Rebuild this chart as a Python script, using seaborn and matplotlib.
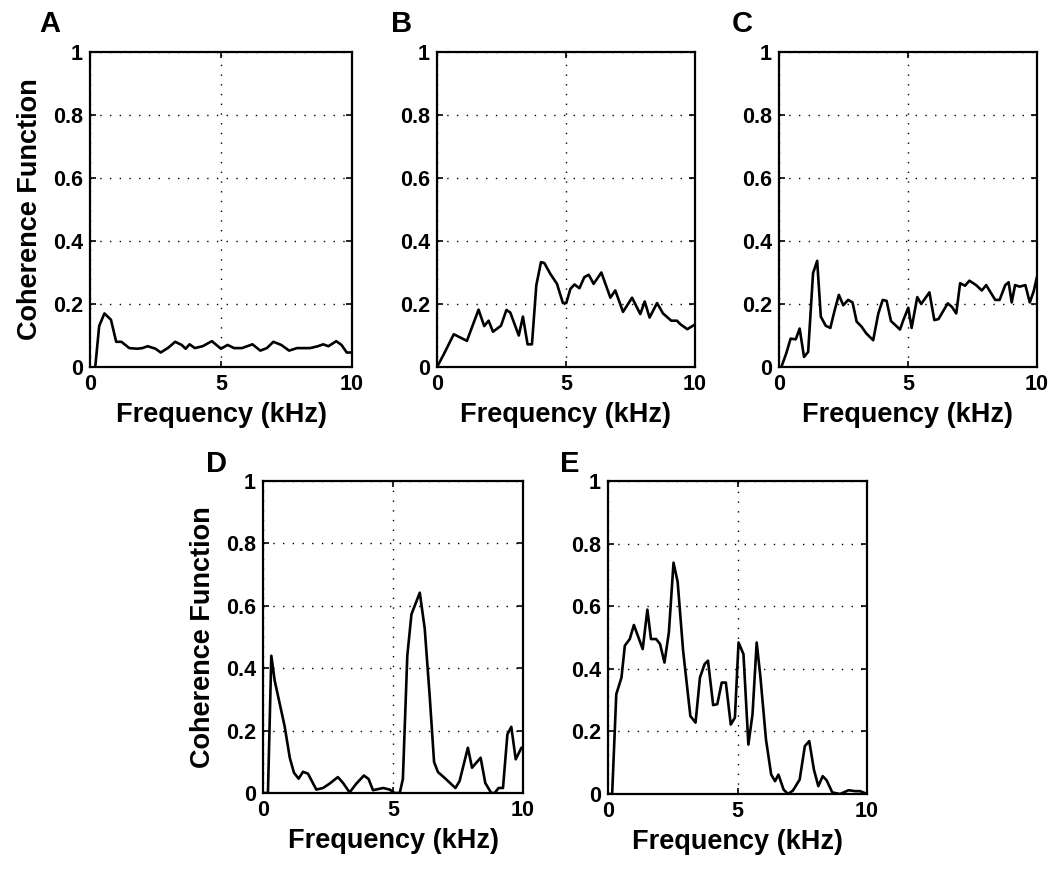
import numpy as np
import pandas as pd
import matplotlib
matplotlib.use("Agg")
import matplotlib.pyplot as plt
import seaborn as sns

sns.set_style("ticks")
plt.rcParams['font.family'] = ['Liberation Sans', 'DejaVu Sans']
plt.rcParams['font.weight'] = 'bold'
plt.rcParams['text.color'] = 'black'
plt.rcParams['axes.labelcolor'] = 'black'
plt.rcParams['xtick.color'] = 'black'
plt.rcParams['ytick.color'] = 'black'

# ---- data ----
freq_a = [0.2, 0.35, 0.55, 0.8, 1.0, 1.2, 1.5, 1.8, 2.0, 2.2, 2.5, 2.7, 3.0, 3.25, 3.5, 3.65, 3.8, 4.0, 4.3, 4.65,
          5.0, 5.25, 5.5, 5.8, 6.2, 6.5, 6.75, 7.0, 7.3, 7.6, 7.9, 8.4, 8.7, 8.9, 9.1, 9.4, 9.6, 9.8, 10.0]
coh_a = [0.0, 0.13, 0.17, 0.15, 0.08, 0.08, 0.06, 0.058, 0.06, 0.066, 0.058, 0.046, 0.062, 0.08, 0.07, 0.058,
         0.072, 0.06, 0.066, 0.082, 0.058, 0.07, 0.06, 0.06, 0.072, 0.052, 0.06, 0.08, 0.07, 0.052, 0.06, 0.06,
         0.066, 0.072, 0.066, 0.082, 0.07, 0.046, 0.046]

freq_b = [0.0, 0.26, 0.65, 1.16, 1.61, 1.83, 2.0, 2.17, 2.48, 2.69, 2.84, 3.17, 3.33, 3.51, 3.68, 3.85, 4.03, 4.16,
          4.39, 4.65, 4.88, 5.01, 5.17, 5.33, 5.52, 5.71, 5.88, 6.07, 6.37, 6.72, 6.91, 7.21, 7.56, 7.88, 8.05, 8.24,
          8.53, 8.76, 9.08, 9.3, 9.43, 9.7, 10.0]
coh_b = [0.0, 0.04, 0.104, 0.083, 0.182, 0.13, 0.147, 0.112, 0.131, 0.181, 0.173, 0.10, 0.16, 0.072, 0.072, 0.26,
         0.333, 0.33, 0.296, 0.264, 0.203, 0.203, 0.248, 0.262, 0.25, 0.285, 0.293, 0.264, 0.30, 0.22, 0.243, 0.175,
         0.22, 0.168, 0.208, 0.157, 0.203, 0.17, 0.147, 0.147, 0.136, 0.12, 0.135]

freq_c = [0.09, 0.28, 0.45, 0.65, 0.8, 0.97, 1.13, 1.32, 1.48, 1.62, 1.81, 1.99, 2.16, 2.32, 2.49, 2.68, 2.85, 3.01,
          3.2, 3.39, 3.65, 3.85, 4.02, 4.17, 4.34, 4.69, 4.82, 5.01, 5.14, 5.36, 5.51, 5.83, 6.02, 6.18, 6.54, 6.7,
          6.87, 7.02, 7.21, 7.38, 7.64, 7.86, 8.03, 8.38, 8.55, 8.77, 8.9, 9.02, 9.15, 9.33, 9.55, 9.72, 9.87, 10.0]
coh_c = [0.0, 0.043, 0.09, 0.088, 0.122, 0.032, 0.048, 0.298, 0.337, 0.16, 0.131, 0.124, 0.181, 0.229, 0.196, 0.213,
         0.205, 0.144, 0.128, 0.106, 0.085, 0.17, 0.213, 0.21, 0.146, 0.119, 0.149, 0.188, 0.124, 0.222, 0.20, 0.237,
         0.149, 0.152, 0.202, 0.191, 0.17, 0.266, 0.258, 0.274, 0.26, 0.243, 0.26, 0.213, 0.213, 0.26, 0.269, 0.205,
         0.26, 0.255, 0.26, 0.205, 0.24, 0.287]

freq_d = [0.04, 0.19, 0.32, 0.45, 0.83, 1.03, 1.19, 1.37, 1.54, 1.73, 2.05, 2.31, 2.56, 2.88, 3.08, 3.33, 3.59, 3.88,
          4.06, 4.23, 4.62, 4.87, 5.06, 5.26, 5.38, 5.55, 5.71, 6.03, 6.22, 6.41, 6.58, 6.73, 6.99, 7.4, 7.56, 7.88,
          8.04, 8.37, 8.55, 8.78, 8.91, 9.06, 9.23, 9.4, 9.55, 9.72, 9.94, 10.0]
coh_d = [0.0, 0.0, 0.44, 0.36, 0.215, 0.113, 0.065, 0.046, 0.068, 0.062, 0.011, 0.016, 0.030, 0.051, 0.032, 0.002,
         0.030, 0.056, 0.045, 0.009, 0.016, 0.011, 0.0, 0.0, 0.045, 0.44, 0.573, 0.642, 0.527, 0.312, 0.099, 0.067,
         0.048, 0.016, 0.038, 0.145, 0.081, 0.113, 0.032, 0.0, 0.0, 0.016, 0.016, 0.188, 0.212, 0.108, 0.145, 0.145]

freq_e = [0.0, 0.16, 0.32, 0.52, 0.65, 0.84, 1.0, 1.34, 1.52, 1.66, 1.86, 2.01, 2.18, 2.35, 2.53, 2.69, 2.9, 3.18,
          3.38, 3.55, 3.73, 3.86, 4.06, 4.22, 4.39, 4.55, 4.74, 4.9, 5.04, 5.23, 5.42, 5.58, 5.74, 5.88, 6.1, 6.3,
          6.45, 6.58, 6.78, 6.95, 7.14, 7.4, 7.6, 7.77, 7.95, 8.12, 8.29, 8.44, 8.66, 8.96, 9.29, 9.55, 9.74, 10.0]
coh_e = [0.0, 0.0, 0.319, 0.372, 0.474, 0.495, 0.54, 0.463, 0.589, 0.495, 0.495, 0.479, 0.42, 0.516, 0.739, 0.677,
         0.458, 0.249, 0.228, 0.372, 0.415, 0.426, 0.284, 0.287, 0.356, 0.356, 0.222, 0.244, 0.484, 0.447, 0.158,
         0.255, 0.484, 0.378, 0.174, 0.062, 0.041, 0.062, 0.014, 0.0, 0.011, 0.046, 0.153, 0.169, 0.078, 0.025,
         0.057, 0.044, 0.005, 0.0, 0.012, 0.009, 0.009, 0.0]

panel_labels = ["A", "B", "C", "D", "E"]
x_ticks = [0, 5, 10]
x_ticklabels = ["0", "5", "10"]
y_ticks = [0, 0.2, 0.4, 0.6, 0.8, 1.0]
y_ticklabels = ["0", "0.2", "0.4", "0.6", "0.8", "1"]
x_label = "Frequency (kHz)"
y_label = "Coherence Function"

panels = [(freq_a, coh_a), (freq_b, coh_b), (freq_c, coh_c), (freq_d, coh_d), (freq_e, coh_e)]

W, H = 1050, 872
fig = plt.figure(figsize=(W / 100, H / 100), dpi=100)

# axes boxes in pixels: left, right, top, bottom
boxes = [(90, 352, 52, 367), (437, 695, 52, 367), (779, 1037, 52, 367),
         (263, 523, 481, 793), (608, 867, 481, 794)]
letter_pos = [(50, 24), (402, 24), (742, 24), (216, 464), (570, 464)]

for i, ((fx, cy), (l, r, t, b)) in enumerate(zip(panels, boxes)):
    ax = fig.add_axes([l / W, 1 - b / H, (r - l) / W, (b - t) / H])
    df = pd.DataFrame({"f": fx, "c": cy})
    sns.lineplot(data=df, x="f", y="c", ax=ax, color="black", linewidth=1.9, estimator=None, sort=False)
    ax.set_xlim(0, 10)
    ax.set_ylim(0, 1)
    ax.set_xticks(x_ticks)
    ax.set_xticklabels(x_ticklabels)
    ax.set_yticks(y_ticks)
    ax.set_yticklabels(y_ticklabels)
    ax.grid(True, color="black", linestyle=(0, (1, 6)), linewidth=1.0)
    ax.tick_params(direction="in", length=4, width=1.2, top=True, right=True,
                   labelsize=15.5, pad=5, colors="black", labelcolor="black")
    for lab in ax.get_xticklabels() + ax.get_yticklabels():
        lab.set_fontweight("bold")
    for s in ax.spines.values():
        s.set_linewidth(1.6)
        s.set_color("black")
    ax.set_xlabel(x_label, fontsize=19.5, fontweight="bold", labelpad=5, color="black")
    if i in (0, 3):
        ax.set_ylabel(y_label, fontsize=19.5, fontweight="bold", labelpad=7, color="black")
    else:
        ax.set_ylabel("")
    fig.text(letter_pos[i][0] / W, 1 - letter_pos[i][1] / H, panel_labels[i],
             fontsize=21, fontweight="heavy", ha="center", va="center", color="black")

fig.savefig("out.png", dpi=100)
